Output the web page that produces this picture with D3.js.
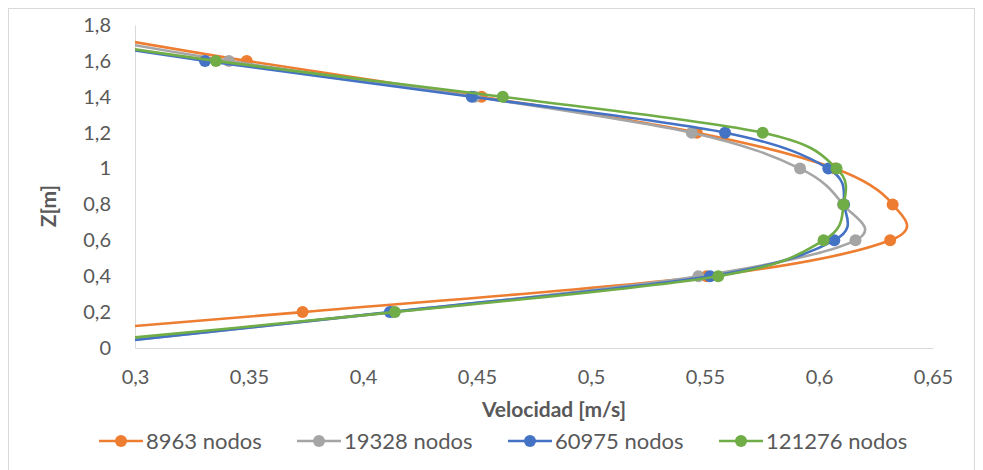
<!DOCTYPE html>
<html>
<head>
<meta charset="utf-8">
<script src="https://cdn.jsdelivr.net/npm/d3@7"></script>
<style>
  body { margin: 0; background: #fff; }
  text { font-family: Lato, "Open Sans", sans-serif; fill: #595959; }
</style>
</head>
<body>
<div id="app"></div>
<script>
// heights (Z in m) shared by every series
const heights = [0, 0.2, 0.4, 0.6, 0.8, 1.0, 1.2, 1.4, 1.6, 1.8]
// velocities (m/s); first/last points lie outside the visible range
const vel8963 = [0.18, 0.3735, 0.5507, 0.6312, 0.6323, 0.607, 0.5464, 0.452, 0.349, 0.257]
const vel19328 = [0.265, 0.413, 0.5471, 0.616, 0.6105, 0.5917, 0.5442, 0.449, 0.3412, 0.25]
const vel60975 = [0.268, 0.4118, 0.5522, 0.6067, 0.611, 0.6041, 0.5588, 0.4477, 0.3307, 0.228]
const vel121276 = [0.251, 0.414, 0.5558, 0.602, 0.6108, 0.6077, 0.5753, 0.4613, 0.3355, 0.23]
const seriesNames = ['8963 nodos', '19328 nodos', '60975 nodos', '121276 nodos']
const seriesColors = ['#ED7D31', '#A5A5A5', '#4472C4', '#70AD47']
const xTicks = [0.3, 0.35, 0.4, 0.45, 0.5, 0.55, 0.6, 0.65]
const yTicks = [0, 0.2, 0.4, 0.6, 0.8, 1, 1.2, 1.4, 1.6, 1.8]

const series = [vel8963, vel19328, vel60975, vel121276].map((v, i) => ({
  name: seriesNames[i],
  color: seriesColors[i],
  points: v.map((x, j) => ({ x: x, z: heights[j] }))
}))

const w = 983, h = 470
const plot = { left: 135, right: 933, top: 25, bottom: 348 }
const fmt = d => String(d).replace('.', ',')

const svg = d3.select('#app').append('svg')
  .attr('width', w)
  .attr('height', h)

// chart border
svg.append('rect')
  .attr('x', 8.5).attr('y', 8.5)
  .attr('width', 966).attr('height', 475)
  .attr('fill', 'none')
  .attr('stroke', '#d9d9d9')

const x = d3.scaleLinear().domain([0.3, 0.65]).range([plot.left, plot.right])
const y = d3.scaleLinear().domain([0, 1.8]).range([plot.bottom, plot.top])

svg.append('clipPath').attr('id', 'clip')
  .append('rect')
  .attr('x', plot.left).attr('y', plot.top)
  .attr('width', plot.right - plot.left).attr('height', plot.bottom - plot.top)

// axes
const xAxis = svg.append('g')
  .attr('transform', `translate(0,${plot.bottom})`)
  .call(d3.axisBottom(x).tickValues(xTicks).tickFormat(fmt).tickSize(0).tickPadding(22))
xAxis.select('.domain').attr('stroke', '#d9d9d9')
xAxis.selectAll('text').attr('font-size', 20).attr('fill', '#595959')
  .attr('font-family', 'Lato, sans-serif')

const yAxis = svg.append('g')
  .attr('transform', `translate(${plot.left},0)`)
  .call(d3.axisLeft(y).tickValues(yTicks).tickFormat(fmt).tickSize(0).tickPadding(24))
yAxis.select('.domain').attr('stroke', '#d9d9d9')
yAxis.selectAll('text').attr('font-size', 20).attr('fill', '#595959')
  .attr('font-family', 'Lato, sans-serif')

// axis titles
svg.append('text')
  .attr('x', 554).attr('y', 417)
  .attr('text-anchor', 'middle')
  .attr('font-size', 21).attr('font-weight', 'bold')
  .text('Velocidad [m/s]')

svg.append('text')
  .attr('transform', 'translate(56,206) rotate(-90)')
  .attr('text-anchor', 'middle')
  .attr('font-size', 21).attr('font-weight', 'bold')
  .text('Z[m]')

// series
const line = d3.line()
  .x(d => x(d.x))
  .y(d => y(d.z))
  .curve(d3.curveCatmullRom.alpha(0))

const layer = svg.append('g').attr('clip-path', 'url(#clip)')
const groups = layer.selectAll('g.series')
  .data(series)
  .enter().append('g')
  .attr('class', 'series')

groups.append('path')
  .attr('d', d => line(d.points))
  .attr('fill', 'none')
  .attr('stroke', d => d.color)
  .attr('stroke-width', 2.6)

groups.selectAll('circle')
  .data(d => d.points.filter(p => p.z > 0 && p.z < 1.8).map(p => ({ p: p, color: d.color })))
  .enter().append('circle')
  .attr('cx', d => x(d.p.x))
  .attr('cy', d => y(d.p.z))
  .attr('r', 6)
  .attr('fill', d => d.color)

// legend
const legendX = [99, 297, 508, 719]
const legend = svg.append('g')
  .selectAll('g')
  .data(series)
  .enter().append('g')
  .attr('transform', (d, i) => `translate(${legendX[i]},441)`)

legend.append('line')
  .attr('x1', 0).attr('x2', 44)
  .attr('stroke', d => d.color)
  .attr('stroke-width', 2.6)
legend.append('circle')
  .attr('cx', 22).attr('r', 6)
  .attr('fill', d => d.color)
legend.append('text')
  .attr('x', 47).attr('dy', '0.35em')
  .attr('font-size', 22)
  .text(d => d.name)
</script>
</body>
</html>
